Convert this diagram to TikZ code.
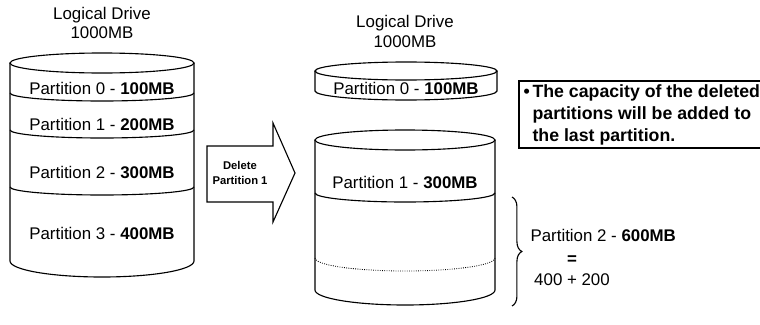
\documentclass[tikz,border=0pt]{standalone}
\usepackage{fontspec}
\setmainfont{Liberation Sans}
\usetikzlibrary{positioning,decorations.pathreplacing}

\begin{document}
\begin{tikzpicture}[x=0.025cm, y=0.025cm, line width=0.8pt,
    txt/.style={font=\fontsize{12}{14}\selectfont, inner sep=0pt},
    notetxt/.style={font=\bfseries\fontsize{12.6}{14}\selectfont, inner sep=0pt, anchor=base west}]
    \useasboundingbox (0,0) rectangle (760,324);
    \clip (0,0) rectangle (760,324);

    % Left drive
    \node[txt] (ltitle) at (102,309) {Logical Drive};
    \node[txt] (lsize) at (102,291) {1000MB};
    \draw (102,261) ellipse [x radius=92, y radius=10];
    \draw (10,261) -- (10,63) arc[start angle=180, end angle=360, x radius=92, y radius=16] -- (194,261);
    \foreach \y in {231,194,137}
        \draw (10,\y) arc[start angle=180, end angle=360, x radius=92, y radius=8];
    \node[txt] (lp0) at (102,236) {Partition 0 - \textbf{100MB}};
    \node[txt] (lp1) at (102,200) {Partition 1 - \textbf{200MB}};
    \node[txt] (lp2) at (102,152) {Partition 2 - \textbf{300MB}};
    \node[txt] (lp3) at (102,91) {Partition 3 - \textbf{400MB}};

    % Arrow
    \draw (207,178) -- (273,178) -- (273,201) -- (295,151) -- (273,102) -- (273,122) -- (207,122) -- cycle;
    \node[inner sep=0pt, align=center, font=\bfseries\fontsize{8}{10}\selectfont] (del) at (240,151) {Delete\\Partition 1};

    % Right drive
    \node[txt] (rtitle) at (405,301) {Logical Drive};
    \node[txt] (rsize) at (405,282) {1000MB};
    % top disk
    \draw (406,253) ellipse [x radius=91, y radius=9];
    \draw (315,253) -- (315,233) arc[start angle=180, end angle=360, x radius=91, y radius=9] -- (497,253);
    \node[txt] (rp0) at (406,236) {Partition 0 - \textbf{100MB}};
    % big cylinder
    \draw (405,184) ellipse [x radius=90, y radius=10];
    \draw (315,184) -- (315,34) arc[start angle=180, end angle=360, x radius=90, y radius=15] -- (495,184);
    \draw (315,131) arc[start angle=180, end angle=360, x radius=90, y radius=9];
    \draw[densely dotted, line width=0.6pt] (315,66) arc[start angle=180, end angle=360, x radius=90, y radius=13];
    \node[txt] (rp1) at (405,142) {Partition 1 - \textbf{300MB}};

    % Brace and result
    \coordinate (btop) at (512,127);
    \coordinate (bbot) at (512,18);
    \draw[decorate, decoration={brace, amplitude=7pt}] (btop) -- (bbot);
    \node[txt, anchor=west] (rp2) at (530,89) {Partition 2 - \textbf{600MB}};
    \node[txt] (eq) at (572,64) {\textbf{=}};
    \node[txt] (sum) at (572,44) {400 + 200};

    % Note
    \draw (519,176) rectangle (800,243);
    \node[notetxt] (n0) at (523,227) {•};
    \node[notetxt] (n1) at (532,227) {The capacity of the deleted};
    \node[notetxt] (n2) at (532,205) {partitions will be added to};
    \node[notetxt] (n3) at (532,183) {the last partition.};
\end{tikzpicture}
\end{document}
